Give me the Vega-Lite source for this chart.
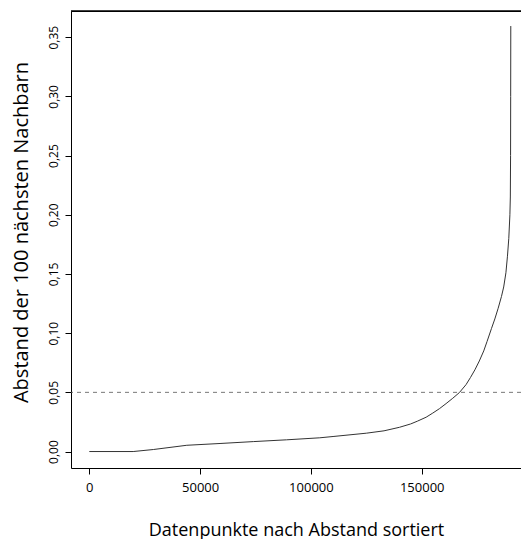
{
  "$schema": "https://vega.github.io/schema/vega-lite/v6.json",
  "autosize": {"type": "none"},
  "padding": {"left": 71, "top": 11, "right": 0, "bottom": 71},
  "width": 450,
  "height": 457,
  "background": "white",
  "config": {
    "view": {"stroke": "black", "strokeWidth": 1, "strokeDash": [450, 3000]},
    "font": "Open Sans",
    "axis": {
      "grid": false,
      "domainColor": "black",
      "domainWidth": 1,
      "tickColor": "black",
      "tickWidth": 1,
      "tickSize": 6,
      "labelColor": "black",
      "titleColor": "black",
      "labelFont": "Open Sans",
      "titleFont": "Open Sans",
      "titleFontWeight": "normal"
    }
  },
  "datasets": {
    "curve": [
      {"rank": 1, "dist": 0.0},
      {"rank": 19800, "dist": 0.0},
      {"rank": 28900, "dist": 0.0017},
      {"rank": 44000, "dist": 0.0053},
      {"rank": 59000, "dist": 0.0068},
      {"rank": 74000, "dist": 0.0084},
      {"rank": 89000, "dist": 0.0099},
      {"rank": 104000, "dist": 0.0116},
      {"rank": 110000, "dist": 0.0127},
      {"rank": 125000, "dist": 0.0155},
      {"rank": 133000, "dist": 0.0175},
      {"rank": 140000, "dist": 0.0205},
      {"rank": 145000, "dist": 0.0233},
      {"rank": 148000, "dist": 0.0256},
      {"rank": 152000, "dist": 0.029},
      {"rank": 155000, "dist": 0.0325},
      {"rank": 158000, "dist": 0.0362},
      {"rank": 161000, "dist": 0.0405},
      {"rank": 164000, "dist": 0.045},
      {"rank": 167000, "dist": 0.0498},
      {"rank": 170000, "dist": 0.0565},
      {"rank": 172000, "dist": 0.0625},
      {"rank": 174000, "dist": 0.069},
      {"rank": 176000, "dist": 0.0765},
      {"rank": 178000, "dist": 0.085},
      {"rank": 179500, "dist": 0.093},
      {"rank": 181500, "dist": 0.104},
      {"rank": 183000, "dist": 0.112},
      {"rank": 184500, "dist": 0.121},
      {"rank": 186000, "dist": 0.131},
      {"rank": 187000, "dist": 0.139},
      {"rank": 188000, "dist": 0.151},
      {"rank": 188700, "dist": 0.165},
      {"rank": 189300, "dist": 0.18},
      {"rank": 189800, "dist": 0.2},
      {"rank": 190000, "dist": 0.215},
      {"rank": 190100, "dist": 0.25},
      {"rank": 190150, "dist": 0.3},
      {"rank": 190200, "dist": 0.3594}
    ],
    "threshold": [{"level": 0.05}],
    "frame": [{"top": 0.3721}]
  },
  "layer": [
    {
      "data": {"name": "frame"},
      "mark": {"type": "rule", "color": "black", "strokeWidth": 1.3},
      "encoding": {
        "y": {"field": "top", "type": "quantitative", "scale": {"domain": [-0.0139, 0.3721], "nice": false, "zero": false}}
      }
    },
    {
      "data": {"name": "threshold"},
      "mark": {"type": "rule", "color": "#555555", "strokeWidth": 0.8, "strokeDash": [4, 4]},
      "encoding": {
        "y": {"field": "level", "type": "quantitative"}
      }
    },
    {
      "data": {"name": "curve"},
      "mark": {"type": "line", "color": "#333333", "strokeWidth": 1},
      "encoding": {
        "x": {
          "field": "rank",
          "type": "quantitative",
          "scale": {"domain": [-8258, 194810], "nice": false, "zero": false},
          "axis": {
            "orient": "bottom",
            "values": [0, 50000, 100000, 150000],
            "format": "d",
            "labelFontSize": 13,
            "labelPadding": 7,
            "title": "Datenpunkte nach Abstand sortiert",
            "titleFontSize": 18,
            "titleAnchor": "middle",
            "titleBaseline": "alphabetic",
            "titleY": 67
          }
        },
        "y": {
          "field": "dist",
          "type": "quantitative",
          "scale": {"domain": [-0.0139, 0.3721], "nice": false, "zero": false},
          "axis": {
            "values": [0, 0.05, 0.1, 0.15, 0.2, 0.25, 0.3, 0.35],
            "labelExpr": "replace(format(datum.value, '.2f'), '.', ',')",
            "labelAngle": -90,
            "labelAlign": "center",
            "labelBaseline": "alphabetic",
            "labelFontSize": 12,
            "labelPadding": 8,
            "title": "Abstand der 100 nächsten Nachbarn",
            "titleFontSize": 20,
            "titleAngle": -90,
            "titleAlign": "center",
            "titleBaseline": "alphabetic",
            "titleX": -44,
            "titleY": 221
          }
        }
      }
    }
  ]
}
